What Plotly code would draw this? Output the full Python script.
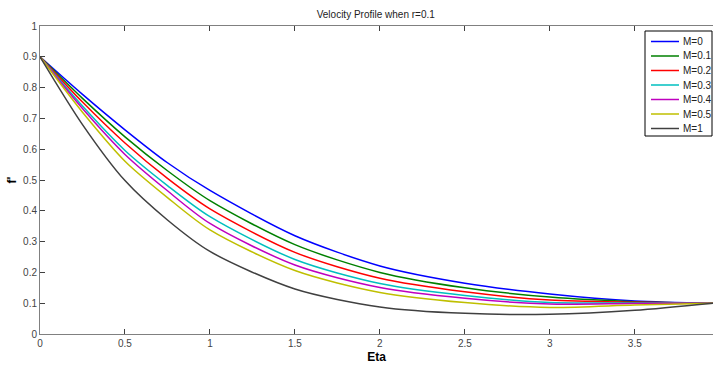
import plotly.graph_objects as go

eta = [0, 0.25, 0.5, 0.75, 1, 1.5, 2, 2.5, 3, 3.5, 3.96]
series_names = ["M=0", "M=0.1", "M=0.2", "M=0.3", "M=0.4", "M=0.5", "M=1"]
m0 = [0.9, 0.778, 0.663, 0.556, 0.466, 0.319, 0.221, 0.165, 0.130, 0.107, 0.1]
m01 = [0.9, 0.765, 0.640, 0.530, 0.433, 0.290, 0.200, 0.150, 0.120, 0.105, 0.1]
m02 = [0.9, 0.753, 0.620, 0.505, 0.406, 0.265, 0.181, 0.137, 0.110, 0.103, 0.1]
m03 = [0.9, 0.740, 0.596, 0.482, 0.381, 0.242, 0.164, 0.125, 0.102, 0.101, 0.1]
m04 = [0.9, 0.732, 0.583, 0.465, 0.359, 0.224, 0.151, 0.116, 0.097, 0.099, 0.1]
m05 = [0.9, 0.720, 0.561, 0.443, 0.338, 0.206, 0.135, 0.102, 0.086, 0.094, 0.1]
m1 = [0.9, 0.680, 0.498, 0.370, 0.268, 0.146, 0.088, 0.067, 0.064, 0.077, 0.1]
series_values = [m0, m01, m02, m03, m04, m05, m1]
colors = ["#0000ff", "#008000", "#ff0000", "#00bfbf", "#bf00bf", "#bfbf00", "#404040"]

x_ticks = [0, 0.5, 1, 1.5, 2, 2.5, 3, 3.5]
x_labels = ["0", "0.5", "1", "1.5", "2", "2.5", "3", "3.5"]
y_ticks = [0, 0.1, 0.2, 0.3, 0.4, 0.5, 0.6, 0.7, 0.8, 0.9, 1]
y_labels = ["0", "0.1", "0.2", "0.3", "0.4", "0.5", "0.6", "0.7", "0.8", "0.9", "1"]

W, H = 713, 365
ML, MR, MT, MB = 40, 0, 26, 31
PW, PH = W - ML - MR, H - MT - MB


def px(x):
    return (x - ML) / PW


def py(y):
    return (H - MB - y) / PH


fig = go.Figure()
for name, vals, c in zip(series_names, series_values, colors):
    fig.add_trace(go.Scatter(x=eta, y=vals, mode="lines", name=name, showlegend=False,
                             line=dict(color=c, width=1.5, shape="spline", smoothing=0.8)))

# compact MATLAB-style legend box
shapes = [dict(type="rect", xref="paper", yref="paper",
               x0=px(645), x1=px(712), y0=py(136), y1=py(31),
               line=dict(color="#000000", width=1), fillcolor="white", layer="above")]
annotations = []
for i, (name, c) in enumerate(zip(series_names, colors)):
    yy = py(41.5 + 14.5 * i)
    shapes.append(dict(type="line", xref="paper", yref="paper",
                       x0=px(651), x1=px(679), y0=yy, y1=yy,
                       line=dict(color=c, width=1.5), layer="above"))
    annotations.append(dict(xref="paper", yref="paper", x=px(681), y=yy,
                            xanchor="left", yanchor="middle", text=name, showarrow=False,
                            font=dict(size=10, color="#222222")))

font = "Liberation Sans, Arial, sans-serif"
fig.update_layout(
    width=W, height=H,
    margin=dict(l=ML, r=MR, t=MT, b=MB),
    paper_bgcolor="white", plot_bgcolor="white",
    font=dict(family=font, size=10, color="#444444"),
    title=dict(text="Velocity Profile when r=0.1", x=0.527, xanchor="center",
               y=1 - 14 / H, yanchor="middle", font=dict(size=10, color="#222222")),
    xaxis=dict(range=[0, 3.96], tickvals=x_ticks, ticktext=x_labels,
               showgrid=False, zeroline=False, showline=True, linecolor="#808080",
               linewidth=1, mirror="ticks", ticks="inside", ticklen=5, tickcolor="#404040",
               title=dict(text="<b>Eta</b>", font=dict(size=12, color="#000000"), standoff=4)),
    yaxis=dict(range=[0, 1], tickvals=y_ticks, ticktext=y_labels,
               showgrid=False, zeroline=False, showline=True, linecolor="#808080",
               linewidth=1, ticks="inside", ticklen=5, tickcolor="#404040",
               title=dict(text="<b>f'</b>", font=dict(size=12, color="#000000"), standoff=3)),
    shapes=shapes,
    annotations=annotations,
    showlegend=False,
)

fig.write_html("out.html")
